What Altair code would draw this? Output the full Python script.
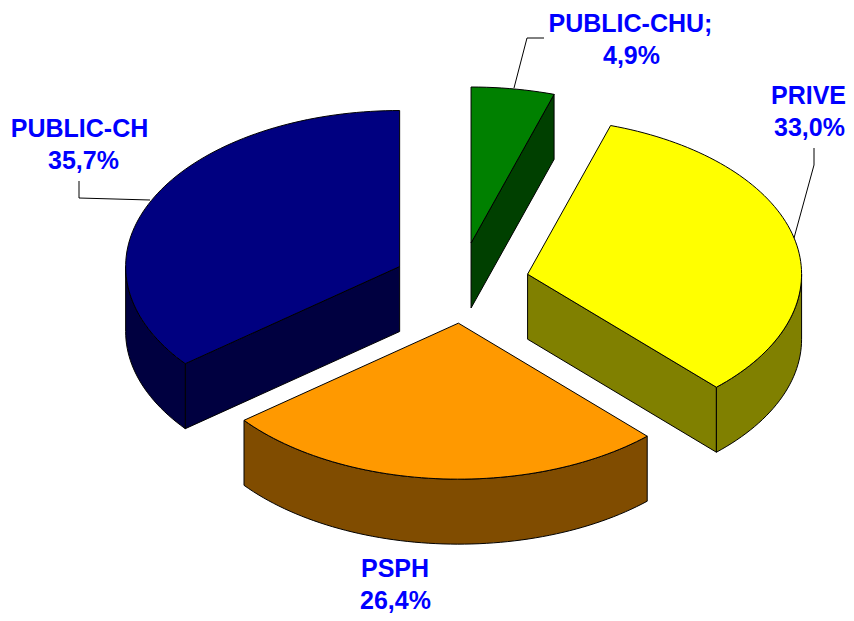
import math
import altair as alt
import pandas as pd

names = ["PUBLIC-CHU;", "PRIVE", "PSPH", "PUBLIC-CH"]
shares = [4.9, 33.0, 26.4, 35.7]
share_labels = ["4,9%", "33,0%", "26,4%", "35,7%"]
top_colors = ["#008000", "#FFFF00", "#FF9900", "#000080"]
side_colors = ["#004000", "#808000", "#804C00", "#000040"]

# Label anchors and leader lines (page pixels)
label_x1 = [630.5, 808.5, 395, 79.5]
label_x2 = [631.5, 809.5, 395.5, 83.5]
label_y1 = [32, 104, 577, 137]
label_y2 = [64, 136, 609, 169]
leaders = [
    [(544, 38), (527, 38), (514, 88)],
    [(814, 148), (814, 165), (794, 238)],
    None,
    [(79, 181), (79, 198), (150, 200)],
]

# Pie projection
CX, CY, RX, RY, DEPTH, EXPLODE = 460.6, 283.4, 274.0, 156.0, 65.0, 0.249
nudge_x = [0, 0.5, 2.5, 0.5]
nudge_y = [-2, -0.5, 1, 0]
PAGE_W, PAGE_H = 846, 613
MARGIN = 8


def rim(c, t0, t1):
    n = max(2, int(abs(t1 - t0) / 1.5))
    return [
        (c[0] + RX * math.sin(math.radians(t0 + (t1 - t0) * i / n)),
         c[1] - RY * math.cos(math.radians(t0 + (t1 - t0) * i / n)))
        for i in range(n + 1)
    ]


def down(pts):
    return [(x, y + DEPTH) for x, y in pts]


xs = alt.Scale(domain=[MARGIN, PAGE_W], nice=False, zero=False)
ys = alt.Scale(domain=[PAGE_H, MARGIN], nice=False, zero=False)
X = alt.X("x:Q", scale=xs, axis=None)
Y = alt.Y("y:Q", scale=ys, axis=None)


def poly(pts, fill):
    closed = list(pts) + [pts[0]]
    df = pd.DataFrame({"x": [p[0] for p in closed], "y": [p[1] for p in closed],
                       "i": range(len(closed))})
    return alt.Chart(df).mark_line(fill=fill, stroke="#000000", strokeWidth=1,
                                   strokeJoin="round", interpolate="linear").encode(
        x=X, y=Y, order=alt.Order("i:Q"))


def path(pts):
    df = pd.DataFrame({"x": [p[0] for p in pts], "y": [p[1] for p in pts],
                       "i": range(len(pts))})
    return alt.Chart(df).mark_line(stroke="#000000", strokeWidth=1).encode(
        x=X, y=Y, order=alt.Order("i:Q"))


layers = []
angles = []
a = 0.0
for s in shares:
    angles.append((a, a + s * 3.6))
    a += s * 3.6

# which radial edge of each slice shows its cut face
cut_face_angle = {0: angles[0][1], 1: angles[1][1], 3: angles[3][0]}

for idx in [0, 3, 1, 2]:
    t0, t1 = angles[idx]
    mid = math.radians((t0 + t1) / 2)
    c = (CX + EXPLODE * RX * math.sin(mid) + nudge_x[idx],
         CY - EXPLODE * RY * math.cos(mid) + nudge_y[idx])
    top = [c] + rim(c, t0, t1)
    if idx in cut_face_angle:
        t = cut_face_angle[idx]
        end = rim(c, t, t)[0]
        layers.append(poly([c, end, (end[0], end[1] + DEPTH), (c[0], c[1] + DEPTH)], side_colors[idx]))
    # outer wall, the front half of the ellipse only
    w0, w1 = max(t0, 90), min(t1, 270)
    if w1 > w0:
        arc = rim(c, w0, w1)
        layers.append(poly(arc + down(arc)[::-1], side_colors[idx]))
    layers.append(poly(top, top_colors[idx]))

for ld in leaders:
    if ld:
        layers.append(path(ld))

labels = pd.DataFrame({
    "x": label_x1 + label_x2,
    "y": label_y1 + label_y2,
    "t": names + share_labels,
})
layers.append(alt.Chart(labels).mark_text(
    font="Liberation Sans", fontWeight="bold", fontSize=25, color="#0000FF",
    align="center", baseline="alphabetic").encode(x=X, y=Y, text="t:N"))

chart = alt.layer(*layers).properties(
    width=PAGE_W - MARGIN, height=PAGE_H - MARGIN,
    padding=0, autosize=alt.AutoSizeParams(type="none"),
    background="#FFFFFF",
).configure_view(stroke=None)

chart.save("out.html", embed_options={"renderer": "svg", "actions": False})
